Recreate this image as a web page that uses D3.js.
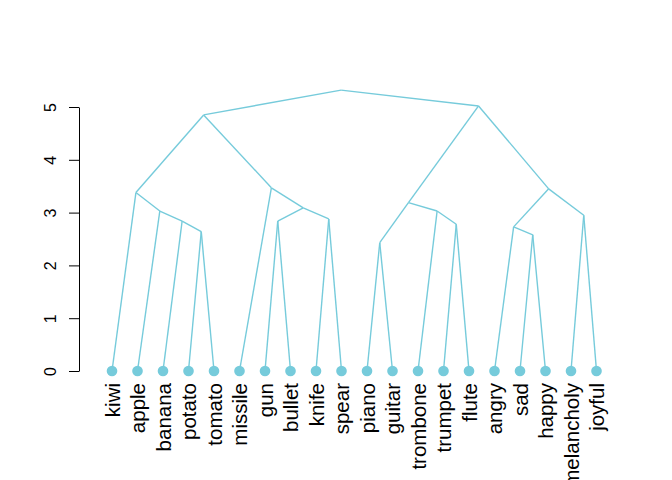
<!DOCTYPE html>
<html><head><meta charset="utf-8">
<script src="https://cdn.jsdelivr.net/npm/d3@7"></script>
<style>body{margin:0;background:#fff}</style>
</head><body>
<svg id="c" width="672" height="480"></svg>
<script>
const labels = ["kiwi","apple","banana","potato","tomato","missile","gun","bullet","knife","spear","piano","guitar","trombone","trumpet","flute","angry","sad","happy","melancholy","joyful"];
// hclust-style merges: negative = leaf (1-based), positive = earlier merge (1-based)
const mergeLeft  = [-11,-17,-4,-16,-14,-3,-7,-9,-19,-2,-13, 7, 1,-1, 4,-6,14,13,17];
const mergeRight = [-12,-18,-5,  2,-15, 3,-8,-10,-20, 6,  5, 8,11,10, 9,12,16,15,18];
const mergeHeight= [2.43,2.58,2.64,2.73,2.78,2.84,2.84,2.88,2.95,3.03,3.03,3.09,3.19,3.38,3.45,3.47,4.85,5.02,5.32];
const yTicks = [0,1,2,3,4,5];

const col = "#76CBDB";
const svg = d3.select("#c");
const x = d3.scaleLinear().domain([0, labels.length-1]).range([112, 596.5]);
const y = d3.scaleLinear().domain([0,5]).range([371, 107]);

function build(id){
  if(id<0) return {name: labels[-id-1], idx: -id-1, h: 0};
  const i = id-1;
  return {h: mergeHeight[i], children:[build(mergeLeft[i]), build(mergeRight[i])]};
}
const root = d3.hierarchy(build(mergeLeft.length));
root.eachAfter(n=>{
  if(!n.children) n.px = x(n.data.idx);
  else n.px = d3.mean(n.children, c=>c.px);
  n.py = y(n.data.h);
});

svg.append("g").selectAll("line").data(root.links()).join("line")
  .attr("x1", d=>d.source.px).attr("y1", d=>d.source.py)
  .attr("x2", d=>d.target.px).attr("y2", d=>d.target.py)
  .attr("stroke", col).attr("stroke-width", 1.4);

svg.append("g").selectAll("circle").data(root.leaves()).join("circle")
  .attr("cx", d=>d.px).attr("cy", d=>d.py).attr("r", 5.3).attr("fill", col);

svg.append("g").selectAll("text").data(root.leaves()).join("text")
  .attr("transform", d=>`translate(${d.px+0.5},383) rotate(-90)`)
  .attr("text-anchor","end").attr("dy","0.35em")
  .attr("font-family","Liberation Sans, Arial, sans-serif").attr("font-size",20.5)
  .attr("fill","#000")
  .text(d=>d.data.name);

const ax = svg.append("g").attr("transform","translate(79,0)")
  .call(d3.axisLeft(y).tickValues(yTicks).tickSize(10).tickSizeOuter(0).tickFormat(d3.format("d")));
ax.select(".domain").attr("stroke","#000");
ax.selectAll(".tick line").attr("stroke","#000");
ax.selectAll(".tick text").attr("font-family","Liberation Sans, Arial, sans-serif").attr("font-size",16)
  .attr("fill","#000")
  .attr("transform", d=>`translate(-29,${0}) rotate(-90)`)
  .attr("x",0).attr("dy","0.35em").attr("text-anchor","middle");
</script>
</body></html>
